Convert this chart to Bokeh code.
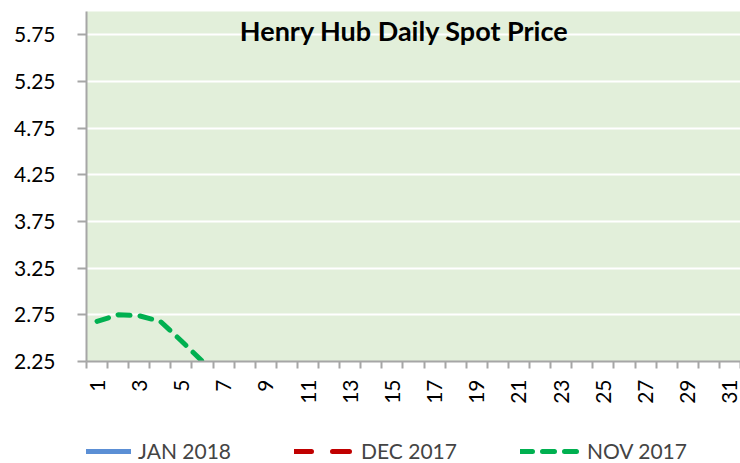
import math
from bokeh.plotting import figure
from bokeh.layouts import column
from bokeh.models import (Range1d, FixedTicker, NumeralTickFormatter, Legend, LegendItem,
                          ColumnDataSource, Label)
from bokeh.embed import file_html
from bokeh.resources import INLINE

# ---- data ----
days = list(range(1, 32))
jan_2018_days = []
jan_2018 = []
dec_2017_days = []
dec_2017 = []
nov_2017_days = [1, 2, 3, 4, 5, 6]
nov_2017 = [2.68, 2.75, 2.74, 2.68, 2.47, 2.25]
y_ticks = [2.25, 2.75, 3.25, 3.75, 4.25, 4.75, 5.25, 5.75]
x_label_days = [d for d in days if d % 2 == 1]
series_names = ["JAN 2018", "DEC 2017", "NOV 2017"]
title_text = "Henry Hub Daily Spot Price"

FONT = "Lato"
styles = [dict(line_color="#5B8FD5", line_width=5, line_cap="round"),
          dict(line_color="#C00000", line_width=5, line_dash="17 21", line_cap="round"),
          dict(line_color="#00B050", line_width=5, line_dash="12 10", line_cap="round")]

p = figure(width=740, height=413, output_backend="svg", toolbar_location=None,
           x_range=Range1d(0.5, 31.5), y_range=Range1d(2.25, 6.0),
           min_border_left=86, min_border_right=0, min_border_top=11, min_border_bottom=52)

p.background_fill_color = "#E2EFDA"
p.border_fill_color = "white"
p.outline_line_color = None

# grid
p.xgrid.grid_line_color = None
p.ygrid.grid_line_color = "white"
p.ygrid.grid_line_width = 2
p.ygrid.ticker = FixedTicker(ticks=y_ticks)

# y axis
p.yaxis.ticker = FixedTicker(ticks=y_ticks)
p.yaxis.formatter = NumeralTickFormatter(format="0.00")
p.yaxis.axis_line_color = "#A6A6A6"
p.yaxis.axis_line_width = 2
p.yaxis.major_tick_line_color = "#A6A6A6"
p.yaxis.major_tick_line_width = 2
p.yaxis.major_tick_out = 9
p.yaxis.major_tick_in = 0
p.yaxis.minor_tick_line_color = None
p.yaxis.major_label_text_font = FONT
p.yaxis.major_label_text_font_size = "21px"
p.yaxis.major_label_text_color = "black"
p.yaxis.major_label_standoff = 22

# x axis
minor = [d - 0.5 for d in days] + [days[-1] + 0.5]
p.xaxis.ticker = FixedTicker(ticks=x_label_days, minor_ticks=minor)
p.xaxis.axis_line_color = "#A6A6A6"
p.xaxis.axis_line_width = 2
p.xaxis.major_tick_line_color = None
p.xaxis.minor_tick_line_color = "#A6A6A6"
p.xaxis.minor_tick_line_width = 2
p.xaxis.minor_tick_out = 7
p.xaxis.minor_tick_in = 0
p.xaxis.major_tick_out = 7
p.xaxis.major_label_orientation = math.pi / 2
p.xaxis.major_label_text_font = FONT
p.xaxis.major_label_text_font_size = "21px"
p.xaxis.major_label_text_color = "black"
p.xaxis.major_label_standoff = 11

# series
series_data = [(jan_2018_days, jan_2018), (dec_2017_days, dec_2017), (nov_2017_days, nov_2017)]
for (xs, ys), st in zip(series_data, styles):
    p.line(x="x", y="y", source=ColumnDataSource(dict(x=xs, y=ys)), **st)

p.add_layout(Label(x=15.57, y=5.80, text=title_text, text_font=FONT, text_font_size="27px",
                   text_font_style="bold", text_align="center", text_baseline="middle",
                   text_color="black"))

# legend strip (separate small figure below the chart); proxy renderers hold no visible data
lg = figure(width=740, height=50, output_backend="svg", toolbar_location=None,
            x_range=Range1d(0, 1), y_range=Range1d(0, 1),
            x_axis_type=None, y_axis_type=None,
            min_border_left=0, min_border_right=0, min_border_top=0, min_border_bottom=0)
lg.grid.visible = False
lg.outline_line_color = None
lg.background_fill_color = "white"
items = []
for name, st in zip(series_names, styles):
    r = lg.line(x="x", y="y", source=ColumnDataSource(dict(x=[float("nan")], y=[float("nan")])), **st)
    items.append(LegendItem(label=name, renderers=[r]))
legend = Legend(items=items, orientation="horizontal", location=(-15, 0),
                label_text_font=FONT, label_text_font_size="21px",
                glyph_width=60, glyph_height=20, label_standoff=7, spacing=63,
                padding=0, margin=0, border_line_color=None, background_fill_alpha=0)
lg.add_layout(legend, "center")

layout = column(p, lg, spacing=0)
open("out.html", "w").write(file_html(layout, INLINE))
